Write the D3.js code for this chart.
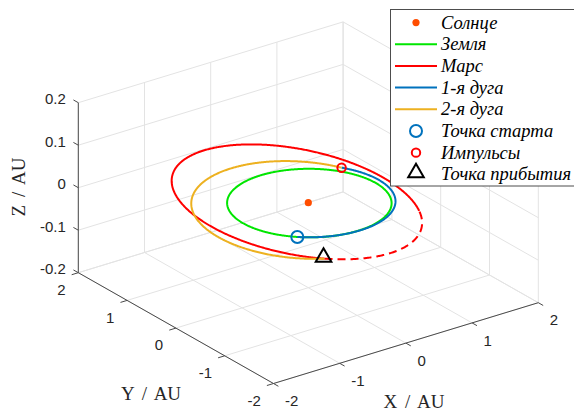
<!DOCTYPE html>
<html>
<head>
	<meta charset="utf-8">
	<title>Перелёт Земля - Марс</title>
	<script src="https://cdn.jsdelivr.net/npm/d3@7"></script>
	<style>
		body { margin: 0; background: #fff; }
		svg { display: block; }
		.tick-label { font-family: "Liberation Sans", Arial, sans-serif; font-size: 15px; fill: #262626; }
		.axis-title { font-family: "Liberation Serif", "Times New Roman", serif; font-size: 19px; fill: #262626; word-spacing: 3px; }
		.legend-text { font-family: "Liberation Serif", "Times New Roman", serif; font-size: 18.5px; font-style: italic; fill: #000; }
	</style>
</head>
<body>
<script>
	// оси
	const xTicks = [-2, -1, 0, 1, 2];
	const yTicks = [-2, -1, 0, 1, 2];
	const zTicks = [-0.2, -0.1, 0, 0.1, 0.2];
	const xTickLabels = ['-2', '-1', '0', '1', '2'];
	const yTickLabels = ['-2', '-1', '0', '1', '2'];
	const zTickLabels = ['-0.2', '-0.1', '0', '0.1', '0.2'];

	// элементы орбит: p - параметр, e, i, node (Ω), argp (ω), градусы
	const earthOrbit = { p: 0.99972, e: 0.0167, i: 0, node: 0, argp: 102.9 };
	const marsOrbit  = { p: 1.5104, e: 0.0934, i: 1.85, node: 49.56, argp: 286.5 };
	const arc1Orbit  = { p: 1.0532, e: 0.0439, i: 0, node: 0, argp: 226 };
	const arc2Orbit  = { p: 1.2953, e: 0.178, i: 0.75, node: 32, argp: -4 };

	// диапазоны истинной аномалии
	const earthRange     = [0, 360];
	const marsSolidRange = [0, 265];
	const marsDashRange  = [-95, 0];
	const arc1Range      = [0, 166];
	const arc2Range      = [4, 213];

	const legendLabels = ['Солнце', 'Земля', 'Марс', '1-я дуга', '2-я дуга', 'Точка старта', 'Импульсы', 'Точка прибытия'];

	const W = 574, H = 411;
	const svg = d3.select('body').append('svg').attr('width', W).attr('height', H);

	// проекция: угол куба (-2,-2,-0.2) и векторы рёбер на экране
	const xs = d3.scaleLinear().domain([-2, 2]).range([0, 1]);
	const ys = d3.scaleLinear().domain([-2, 2]).range([0, 1]);
	const zs = d3.scaleLinear().domain([-0.2, 0.2]).range([0, 1]);
	const C0 = [273.5, 383.5], VX = [264.8, -80.8], VY = [-195.2, -110.8], VZ = [0, -170];

	function proj(p) {
		const a = xs(p[0]), b = ys(p[1]), c = zs(p[2]);
		return [C0[0] + a*VX[0] + b*VY[0] + c*VZ[0], C0[1] + a*VX[1] + b*VY[1] + c*VZ[1]];
	}

	function orbitPoint(o, nuDeg) {
		const r2d = Math.PI/180;
		const nu = nuDeg*r2d, u = (o.argp + nuDeg)*r2d, W0 = o.node*r2d, inc = o.i*r2d;
		const r = o.p/(1 + o.e*Math.cos(nu));
		return [
			r*(Math.cos(W0)*Math.cos(u) - Math.sin(W0)*Math.sin(u)*Math.cos(inc)),
			r*(Math.sin(W0)*Math.cos(u) + Math.cos(W0)*Math.sin(u)*Math.cos(inc)),
			r*Math.sin(u)*Math.sin(inc)
		];
	}

	function orbitPath(o, range) {
		const pts = d3.range(range[0], range[1] + 0.001, 0.5).map(nu => proj(orbitPoint(o, nu)));
		return d3.line()(pts);
	}

	const seg = (a, b) => d3.line()([proj(a), proj(b)]);

	// сетка
	const grid = svg.append('g').attr('stroke', '#e3e3e3').attr('stroke-width', 1).attr('fill', 'none');
	xTicks.forEach(x => {
		grid.append('path').attr('d', seg([x, -2, -0.2], [x, 2, -0.2]));
		grid.append('path').attr('d', seg([x, 2, -0.2], [x, 2, 0.2]));
	});
	yTicks.forEach(y => {
		grid.append('path').attr('d', seg([-2, y, -0.2], [2, y, -0.2]));
		grid.append('path').attr('d', seg([2, y, -0.2], [2, y, 0.2]));
	});
	zTicks.forEach(z => {
		grid.append('path').attr('d', seg([-2, 2, z], [2, 2, z]));
		grid.append('path').attr('d', seg([2, 2, z], [2, -2, z]));
	});

	// оси и деления
	const axes = svg.append('g').attr('stroke', '#4a4a4a').attr('stroke-width', 1).attr('fill', 'none');
	axes.append('path').attr('d', seg([-2, -2, -0.2], [2, -2, -0.2]));
	axes.append('path').attr('d', seg([-2, -2, -0.2], [-2, 2, -0.2]));
	axes.append('path').attr('d', seg([-2, 2, -0.2], [-2, 2, 0.2]));

	const tl = 0.1; // длина деления в AU
	xTicks.forEach(x => axes.append('path').attr('d', seg([x, -2, -0.2], [x, -2 - tl, -0.2])));
	yTicks.forEach(y => axes.append('path').attr('d', seg([-2, y, -0.2], [-2 - tl, y, -0.2])));
	zTicks.forEach(z => axes.append('path').attr('d', seg([-2, 2, z], [-2, 2 + tl, z])));

	const labels = svg.append('g');
	xTicks.forEach((x, k) => {
		const p = proj([x, -2, -0.2]);
		labels.append('text').attr('class', 'tick-label')
			.attr('x', p[0] + 11.5).attr('y', p[1] + 17.5).attr('dy', '0.35em')
			.attr('text-anchor', 'start').text(xTickLabels[k]);
	});
	yTicks.forEach((y, k) => {
		const p = proj([-2, y, -0.2]);
		labels.append('text').attr('class', 'tick-label')
			.attr('x', p[0] - 12.7).attr('y', p[1] + 17).attr('dy', '0.35em')
			.attr('text-anchor', 'end').text(yTickLabels[k]);
	});
	zTicks.forEach((z, k) => {
		const p = proj([-2, 2, z]);
		labels.append('text').attr('class', 'tick-label')
			.attr('x', p[0] - 12.5).attr('y', p[1] - 3.5).attr('dy', '0.35em')
			.attr('text-anchor', 'end').text(zTickLabels[k]);
	});

	labels.append('text').attr('class', 'axis-title').attr('x', 414).attr('y', 407.5).attr('text-anchor', 'middle').text('X / AU');
	labels.append('text').attr('class', 'axis-title').attr('x', 151).attr('y', 400).attr('text-anchor', 'middle').text('Y / AU');
	labels.append('text').attr('class', 'axis-title').attr('transform', 'translate(24.5,187) rotate(-90)').attr('text-anchor', 'middle').text('Z / AU');

	// данные
	const colors = { sun: '#ff4d00', earth: '#00e600', mars: '#ff0000', arc1: '#0072bd', arc2: '#edb120' };
	const plot = svg.append('g').attr('fill', 'none').attr('stroke-width', 2);

	plot.append('path').attr('d', orbitPath(earthOrbit, earthRange)).attr('stroke', colors.earth);
	plot.append('path').attr('d', orbitPath(marsOrbit, marsSolidRange)).attr('stroke', colors.mars);
	plot.append('path').attr('d', orbitPath(marsOrbit, marsDashRange)).attr('stroke', colors.mars).attr('stroke-dasharray', '8,5');
	plot.append('path').attr('d', orbitPath(arc1Orbit, arc1Range)).attr('stroke', colors.arc1);
	plot.append('path').attr('d', orbitPath(arc2Orbit, arc2Range)).attr('stroke', colors.arc2);

	const sun = proj([0, 0, 0]);
	plot.append('circle').attr('cx', sun[0]).attr('cy', sun[1]).attr('r', 3.6).attr('fill', colors.sun).attr('stroke', 'none');

	const startP = proj(orbitPoint(arc1Orbit, arc1Range[0]));
	const impP = proj(orbitPoint(arc2Orbit, arc2Range[0]));
	const arrP = proj(orbitPoint(marsOrbit, marsDashRange[0]));
	plot.append('circle').attr('cx', startP[0]).attr('cy', startP[1]).attr('r', 6).attr('stroke', colors.arc1);
	plot.append('circle').attr('cx', impP[0]).attr('cy', impP[1]).attr('r', 4.2).attr('stroke', colors.mars);
	const tri = d3.symbol().type(d3.symbolTriangle).size(105);
	plot.append('path').attr('d', tri()).attr('transform', `translate(${arrP[0] - 1},${arrP[1] - 1.5})`).attr('stroke', '#000');

	// легенда
	const lg = svg.append('g');
	lg.append('rect').attr('x', 390.5).attr('y', 9.5).attr('width', 200).attr('height', 176.5)
		.attr('fill', '#fff').attr('stroke', '#4d4d4d').attr('stroke-width', 1);
	const ly = d3.scaleLinear().domain([0, 7]).range([22.6, 174.3]);
	const lx0 = 395, lx1 = 437, lxm = 416, ltx = 441;
	legendLabels.forEach((t, k) => {
		lg.append('text').attr('class', 'legend-text').attr('x', ltx).attr('y', ly(k)).attr('dy', '0.33em').text(t);
	});
	lg.append('circle').attr('cx', lxm).attr('cy', ly(0)).attr('r', 3.6).attr('fill', colors.sun);
	[colors.earth, colors.mars, colors.arc1, colors.arc2].forEach((c, k) => {
		lg.append('line').attr('x1', lx0).attr('x2', lx1).attr('y1', ly(k + 1)).attr('y2', ly(k + 1))
			.attr('stroke', c).attr('stroke-width', 2);
	});
	lg.append('circle').attr('cx', lxm).attr('cy', ly(5)).attr('r', 6).attr('fill', 'none').attr('stroke', colors.arc1).attr('stroke-width', 2);
	lg.append('circle').attr('cx', lxm).attr('cy', ly(6)).attr('r', 4.2).attr('fill', 'none').attr('stroke', colors.mars).attr('stroke-width', 2);
	lg.append('path').attr('d', tri()).attr('transform', `translate(${lxm},${ly(7) - 1.5})`)
		.attr('fill', 'none').attr('stroke', '#000').attr('stroke-width', 2);
</script>
</body>
</html>
